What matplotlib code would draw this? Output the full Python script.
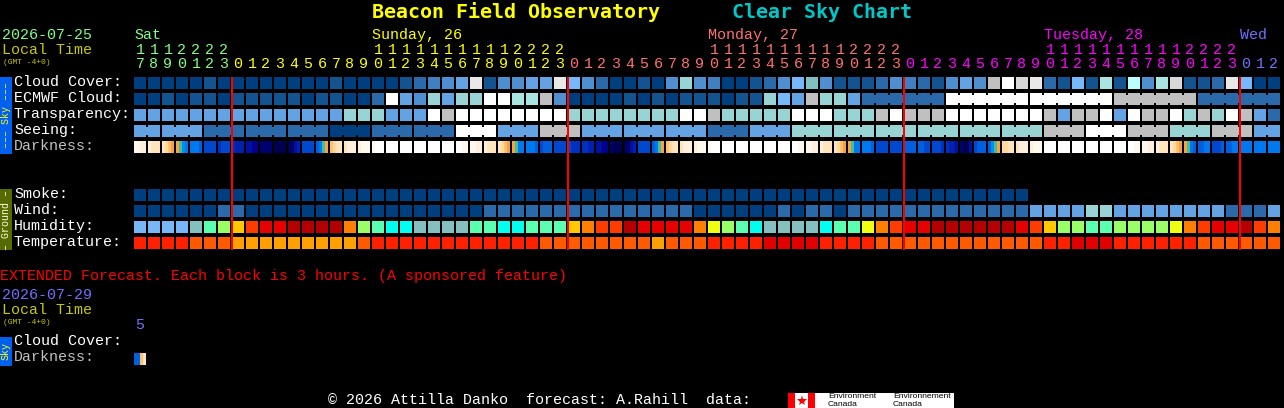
import matplotlib
matplotlib.use('Agg')
from matplotlib import pyplot as plt

# hours across the top, first column is 17:00 on Saturday
hours = [17, 18, 19, 20, 21, 22, 23] + list(range(24)) * 3 + [0, 1, 2]

# colour ramps, index is the level used by the rows below
sky_colors = ['#003F7F', '#13538F', '#2A6AAA', '#4080C0', '#4F8FD0', '#63A3E3', '#77B7FB',
              '#80C0C0', '#99D4D4', '#A8E4E0', '#B9FFFF', '#C0C0C0', '#D8D8D8', '#E8E8E8', '#FFFFFF']
humidity_colors = ['#77B7F7', '#84C0C0', '#00FFEE', '#5AFFB0', '#99FF66', '#EEFF11',
                   '#FFC800', '#FF8000', '#FF3C00', '#E60000', '#B40000']
temp_colors = ['#E00000', '#FF2000', '#FF5A00', '#FFA000']
dark_colors = ['#FFFFFF', '#FFF8EE', '#FFF0DC', '#FFE4C0', '#FFD8A0', '#FFC070', '#FFA040',
               '#40C0A0', '#0090F0', '#0078F0', '#0060E0', '#0048D0', '#0030C0', '#0020B0',
               '#0010A0', '#000090', '#000070', '#000050', '#000040']

cloud = [0, 0, 0, 0, 0, 1, 0, 0, 0, 0, 0, 0, 0, 0, 1, 0, 0, 0, 0, 1, 2,
         3, 4, 5, 13, 1, 4, 4, 5, 5, 13, 6, 4, 2, 0, 0, 1, 0, 4, 8, 4, 3, 0, 0, 1, 2, 4, 6, 7, 4, 1, 1,
         1, 2, 4, 3, 2, 1, 4, 5, 4, 11, 14, 12, 13, 2, 1, 6, 1, 9, 1, 10, 4, 9, 12, 1, 1, 2, 13, 6, 0, 0]
ecmwf = [0, 0, 1, 0, 1, 1, 0, 1, 1, 1, 1, 1, 0, 1, 1, 0, 0, 2, 14, 5, 4,
         8, 5, 8, 8, 14, 14, 9, 9, 11, 4, 0, 0, 0, 0, 1, 0, 1, 0, 1, 1, 1, 0, 1, 1, 8, 6, 5, 11, 8, 8, 5,
         2, 2, 2, 2, 2, 2, 14, 14, 14, 14, 14, 14, 14, 14, 14, 14, 14, 14,
         11, 11, 11, 11, 11, 11, 2, 2, 2, 2, 2, 2]
ecmwf_groups = [(52, 6), (58, 6), (64, 6), (70, 6), (76, 6)]
transparency = [5, 5, 5, 5, 5, 5, 5, 5, 5, 5, 5, 5, 5, 5, 5, 8, 8, 8, 5, 5, 5,
                14, 11, 14, 14, 14, 14, 14, 14, 14, 14, 8, 8, 8, 8, 8, 8, 8, 8, 14, 14, 11, 8, 8, 8, 8, 8,
                14, 14, 14, 8, 8, 8, 11, 14, 11, 11, 11, 14, 14, 14, 14, 14, 14, 14, 11, 5, 11, 11, 14, 5, 14,
                11, 11, 14, 8, 11, 8, 14, 11, 5, 2]
seeing_sizes = [2] + [3] * 26 + [2]
seeing_levels = [5, 5, 2, 2, 2, 0, 2, 2, 14, 5, 11, 5, 5, 5, 2, 5, 8, 8, 8, 8, 8, 8, 11, 14, 11, 8, 11, 5]
# four bands per block, darkness changes inside a block
darkness = [[1, 1, 2, 2], [2, 3, 3, 3], [3, 4, 5, 6], [6, 7, 8, 9], [9, 9, 9, 10], [11, 11, 11, 11],
            [12, 11, 11, 11], [12, 13, 13, 13], [14, 14, 15, 15], [16, 16, 16, 16], [17, 17, 17, 17],
            [17, 16, 14, 13], [11, 11, 11, 11], [10, 9, 7, 6], [5, 4, 3, 3], [3, 2, 2, 2], [2, 1, 1, 1],
            [1, 0, 0, 0], [0, 0, 0, 0], [0, 0, 0, 0], [0, 0, 0, 0], [0, 0, 0, 0], [0, 0, 0, 0], [0, 0, 1, 1],
            [1, 1, 2, 2], [2, 3, 3, 3], [3, 4, 5, 6], [6, 7, 9, 9], [9, 9, 9, 10], [11, 10, 10, 10],
            [11, 11, 11, 11], [11, 12, 12, 12], [12, 12, 13, 13], [14, 14, 15, 15], [16, 17, 17, 17],
            [17, 16, 14, 13], [11, 11, 11, 11], [10, 9, 7, 6], [5, 4, 3, 3], [3, 2, 2, 2], [2, 1, 1, 1],
            [1, 0, 0, 0], [0, 0, 0, 0], [0, 0, 0, 0], [0, 0, 0, 0], [0, 0, 0, 0], [0, 0, 0, 0], [0, 0, 1, 1],
            [1, 1, 2, 2], [2, 3, 3, 3], [3, 4, 5, 6], [6, 7, 9, 9], [9, 9, 9, 10], [11, 11, 11, 11],
            [11, 11, 11, 11], [10, 10, 10, 10], [10, 10, 11, 11], [11, 11, 11, 12], [12, 13, 13, 14],
            [16, 17, 17, 14], [11, 10, 10, 10], [10, 8, 7, 6], [4, 4, 3, 3], [3, 2, 2, 2], [2, 1, 1, 1],
            [0, 0, 0, 0], [0, 0, 0, 0], [0, 0, 0, 0], [0, 0, 0, 0], [0, 0, 0, 0], [0, 0, 0, 0], [0, 0, 1, 1],
            [1, 1, 2, 2], [2, 3, 3, 3], [3, 4, 5, 6], [6, 7, 9, 10], [10, 10, 9, 9], [11, 11, 11, 10],
            [10, 10, 9, 9], [9, 9, 9, 9], [9, 9, 9, 9], [9, 9, 9, 9]]
smoke = [0] * 64
wind = [0, 0, 0, 0, 0, 0, 2, 2, 0, 0, 0, 0, 0, 0, 0, 0, 0, 0, 0, 0, 0,
        0, 0, 0, 0, 2, 2, 2, 2, 2, 2, 2, 2, 2, 2, 2, 2, 2, 2, 2, 0, 0, 0, 0, 0, 0, 2, 0, 2, 2, 0, 2,
        2, 2, 2, 2, 2, 2, 2, 2, 2, 2, 2, 2, 5, 5, 5, 5, 8, 8, 5, 5, 5, 5, 5, 5, 5, 5, 2, 2, 2, 5]
humidity = [0, 0, 0, 0, 1, 3, 4, 6, 8, 9, 9, 10, 10, 10, 10, 7, 4, 3, 2, 2, 1,
            1, 1, 1, 3, 3, 2, 2, 3, 3, 3, 6, 7, 8, 8, 10, 9, 9, 9, 9, 7, 5, 4, 3, 2, 1, 1, 1, 1, 2, 3, 3,
            5, 7, 8, 9, 9, 10, 10, 10, 10, 10, 10, 9, 8, 6, 4, 4, 3, 3, 4, 4, 4, 4, 5, 7, 8, 9, 9, 10, 8, 7]
temperature = [1, 1, 1, 1, 2, 2, 2, 3, 3, 3, 3, 3, 3, 3, 3, 3, 2, 1, 1, 1, 1,
               1, 1, 1, 1, 1, 1, 1, 1, 2, 2, 2, 2, 2, 2, 2, 2, 3, 2, 2, 2, 1, 1, 1, 1, 0, 0, 0, 0, 1, 1, 1,
               1, 2, 2, 2, 2, 2, 2, 2, 2, 2, 2, 2, 2, 1, 1, 0, 0, 0, 1, 1, 1, 1, 1, 1, 2, 2, 2, 2, 2, 2]
ext_darkness = [[10, 10, 5, 3]]

row_labels = ['Cloud Cover:', 'ECMWF Cloud:', 'Transparency:', 'Seeing:', 'Darkness:',
              'Smoke:', 'Wind:', 'Humidity:', 'Temperature:']
day_names = [('Sat', 0, '#80FF80'), ('Sunday, 26', 17, '#FFFF00'), ('Monday, 27', 41, '#FF7070'),
             ('Tuesday, 28', 65, '#FF00FF'), ('Wed', 79, '#7070FF')]
midnights = [7, 31, 55, 79]

LEFT = 134
STEP = 14
CELL = 12
MONO = 'Liberation Mono'


def px(size):
    # font size in pixels to points at dpi 100
    return size * 72 / 100


def col_x(col):
    return LEFT + col * STEP


def rects(ax, xs, heights, width, bottom, color, **kw):
    # everything sits on whole pixels, so no snapping needed
    bars = ax.bar(xs, heights, width, bottom=bottom, align='edge', color=color, linewidth=0, **kw)
    for b in bars:
        b.set_snap(False)


def draw_cells(ax, levels, colors, top):
    xs = [col_x(i) for i in range(len(levels))]
    rects(ax, xs, [CELL] * len(xs), CELL, top, [colors[v] for v in levels])


def draw_links(ax, start, size, color, top):
    # narrow bridge between blocks that belong to one forecast value
    xs = [col_x(start + i) + CELL for i in range(size - 1)]
    rects(ax, xs, [8] * len(xs), 2, top + 2, color)


def draw_darkness(ax, bands, top):
    for i, vals in enumerate(bands):
        xs = [col_x(i) + j * 3 for j in range(4)]
        rects(ax, xs, [CELL] * 4, 3, top, [dark_colors[v] for v in vals])


def label(ax, x, y, s, color='white', size=15, **kw):
    kw.setdefault('family', MONO)
    ax.text(x, y, s, color=color, fontsize=px(size), va='center', ha=kw.pop('ha', 'left'), **kw)


def main():
    fig = plt.figure(figsize=(12.84, 4.08), dpi=100, facecolor='black')
    ax = fig.add_axes([0, 0, 1, 1])
    ax.set_xlim(0, 1284)
    ax.set_ylim(408, 0)
    ax.axis('off')

    # header
    label(ax, 372, 12, 'Beacon Field Observatory', '#FFFF00', 20, fontweight='bold', family='DejaVu Sans Mono')
    label(ax, 732, 12, 'Clear Sky Chart', '#00C8C8', 20, fontweight='bold', family='DejaVu Sans Mono')
    label(ax, 2, 35, '2026-07-25', '#80FF80')
    label(ax, 2, 50, 'Local Time', '#C8C800')
    label(ax, 3, 62, '(GMT -4+0)', '#C8C800', 8)
    for name, col, color in day_names:
        label(ax, col_x(col), 35, name, color)

    # hour digits take the colour of the day they belong to
    day_colors = ['#80FF80', '#FFFF00', '#FF7070', '#FF00FF', '#7070FF']
    for i, h in enumerate(hours):
        day = sum(1 for m in midnights if i >= m)
        color = day_colors[day]
        if h >= 10:
            label(ax, col_x(i) + 6, 50, str(h // 10), color, ha='center')
        label(ax, col_x(i) + 6, 64, str(h % 10), color, ha='center')

    # sky rows
    draw_cells(ax, cloud, sky_colors, 77)
    draw_cells(ax, ecmwf, sky_colors, 93)
    for start, size in ecmwf_groups:
        draw_links(ax, start, size, sky_colors[ecmwf[start]], 93)
    draw_cells(ax, transparency, sky_colors, 109)
    col = 0
    seeing = []
    for size, level in zip(seeing_sizes, seeing_levels):
        seeing += [level] * size
        draw_links(ax, col, size, sky_colors[level], 125)
        col += size
    draw_cells(ax, seeing, sky_colors, 125)
    draw_darkness(ax, darkness, 141)

    # ground rows
    draw_cells(ax, smoke, sky_colors, 189)
    draw_cells(ax, wind, sky_colors, 205)
    draw_cells(ax, humidity, humidity_colors, 221)
    draw_cells(ax, temperature, temp_colors, 237)

    # midnight markers, 2 px wide
    rects(ax, [col_x(m) - 1 for m in midnights], [173] * 4, 2, 77, '#FF0000', zorder=5)

    tops = [82, 98, 114, 130, 146, 194, 210, 226, 242]
    for text, y in zip(row_labels, tops):
        label(ax, 14, y, text, '#C0C0C0' if text == 'Darkness:' else 'white')

    # side bands
    rects(ax, [0], [77], 12, 77, '#0060F0')
    rects(ax, [0], [61], 12, 189, '#556B00')
    label(ax, 6, 115.5, '\u2013\u2013\u2013 Sky \u2013\u2013\u2013', '#FFFF00', 10, rotation=90, ha='center')
    label(ax, 6, 219.5, '\u2013 Ground \u2013', '#FFFFE0', 10, rotation=90, ha='center')

    # extended forecast
    label(ax, 0, 276, 'EXTENDED Forecast. Each block is 3 hours. (A sponsored feature)', '#FF0000')
    label(ax, 2, 295, '2026-07-29', '#7070FF')
    label(ax, 2, 310, 'Local Time', '#C8C800')
    label(ax, 3, 322, '(GMT -4+0)', '#C8C800', 8)
    label(ax, col_x(0) + 6, 325, '5', '#7070FF', ha='center')
    label(ax, 14, 341, 'Cloud Cover:')
    label(ax, 14, 357, 'Darkness:', '#C0C0C0')
    draw_darkness(ax, ext_darkness, 353)
    rects(ax, [0], [29], 12, 337, '#0060F0')
    label(ax, 6, 351.5, 'Sky', '#FFFF00', 10, rotation=90, ha='center')

    # footer with the data provider logo
    label(ax, 328, 400, '\u00a9 2026 Attilla Danko  forecast: A.Rahill  data:')
    rects(ax, [788], [15], 166, 393, 'white')
    rects(ax, [788, 808], [15, 15], 7, 393, '#FF0000')
    ax.plot([801.5], [400.5], marker='*', ms=8, color='#FF0000', mew=0)
    for x, words in [(828, ('Environment', 'Canada')), (893, ('Environnement', 'Canada'))]:
        ax.text(x, 396.5, words[0], color='black', fontsize=px(8.5), va='center', family='Liberation Sans')
        ax.text(x, 404.5, words[1], color='black', fontsize=px(8.5), va='center', family='Liberation Sans')

    fig.savefig('out.png', dpi=100, facecolor='black')


if __name__ == '__main__':
    main()
